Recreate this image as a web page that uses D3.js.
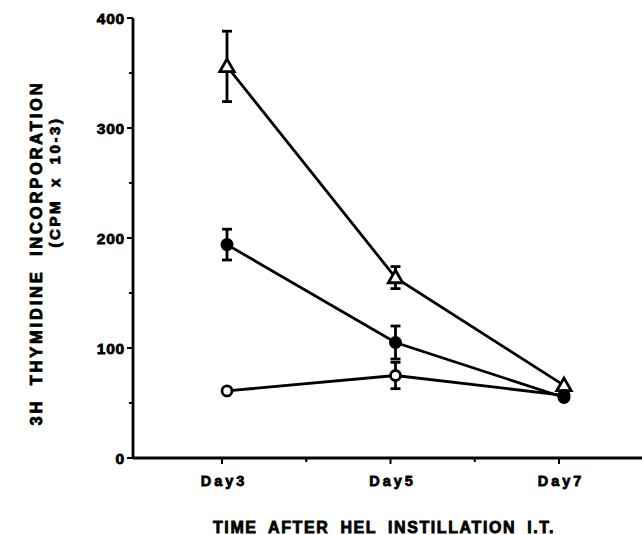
<!DOCTYPE html>
<html>
<head>
<meta charset="utf-8">
<script src="https://cdn.jsdelivr.net/npm/d3@7"></script>
<style>
  body { margin: 0; background: #fff; }
  svg text { font-family: "Liberation Sans", Arial, sans-serif; font-weight: bold; fill: #000;
             stroke: #000; stroke-width: 0.8px; }
</style>
</head>
<body>
<svg id="chart" width="642" height="535"></svg>
<script>
var days = ["Day3", "Day5", "Day7"];
var yTicks = [0, 100, 200, 300, 400];

// mean and error (+/-) per day
var triMean = [356, 164, 66];
var triErr  = [32, 10, 0];
var fillMean = [194, 105, 55];
var fillErr  = [14, 15, 0];
var openMean = [61, 75, 57];
var openErr  = [0, 12, 0];

var svg = d3.select("#chart");
var x = d3.scalePoint().domain(days).range([222, 559]);
var y = d3.scaleLinear().domain([0, 400]).range([458, 18]);
var dx = 5; // points sit a little right of the ticks in the original
var lw = 2.8;

// y axis
var gy = svg.append("g");
gy.append("line").attr("x1", 133).attr("x2", 133)
  .attr("y1", y(400)).attr("y2", y(0))
  .attr("stroke", "#000").attr("stroke-width", lw);
gy.selectAll("line.maj").data(yTicks).enter().append("line")
  .attr("class", "maj")
  .attr("x1", 127).attr("x2", 133)
  .attr("y1", function(d){ return y(d); }).attr("y2", function(d){ return y(d); })
  .attr("stroke", "#000").attr("stroke-width", 2);
gy.selectAll("line.min").data([50, 150, 250, 350]).enter().append("line")
  .attr("class", "min")
  .attr("x1", 129).attr("x2", 133)
  .attr("y1", function(d){ return y(d); }).attr("y2", function(d){ return y(d); })
  .attr("stroke", "#000").attr("stroke-width", 2);
gy.selectAll("text").data(yTicks).enter().append("text")
  .attr("x", 125).attr("y", function(d){ return y(d) + 5.5; })
  .attr("text-anchor", "end").attr("font-size", 15.5)
  .attr("letter-spacing", 0.8)
  .text(function(d){ return d; });

// x axis
var gx = svg.append("g");
gx.append("line").attr("x1", 133).attr("x2", 642)
  .attr("y1", 458).attr("y2", 458)
  .attr("stroke", "#000").attr("stroke-width", lw);
gx.selectAll("line.maj").data(days).enter().append("line")
  .attr("class", "maj")
  .attr("x1", function(d){ return x(d); }).attr("x2", function(d){ return x(d); })
  .attr("y1", 458).attr("y2", 464)
  .attr("stroke", "#000").attr("stroke-width", 2);
gx.selectAll("line.min").data([0, 1]).enter().append("line")
  .attr("class", "min")
  .attr("x1", function(i){ return (x(days[i]) + x(days[i + 1])) / 2; })
  .attr("x2", function(i){ return (x(days[i]) + x(days[i + 1])) / 2; })
  .attr("y1", 458).attr("y2", 462)
  .attr("stroke", "#000").attr("stroke-width", 2);
gx.selectAll("text").data(days).enter().append("text")
  .attr("x", function(d){ return x(d) + 2; }).attr("y", 486)
  .attr("text-anchor", "middle").attr("font-size", 14.5)
  .attr("letter-spacing", 3)
  .text(function(d){ return d; });

svg.append("text").attr("x", 384).attr("y", 533)
  .attr("text-anchor", "middle").attr("font-size", 16)
  .attr("letter-spacing", 1.6).attr("word-spacing", 5)
  .text("TIME AFTER HEL INSTILLATION I.T.");

svg.append("text")
  .attr("transform", "translate(42,253) rotate(-90)")
  .attr("text-anchor", "middle").attr("font-size", 16.5)
  .attr("letter-spacing", 2.8).attr("word-spacing", 6)
  .text("3H THYMIDINE INCORPORATION");
svg.append("text")
  .attr("transform", "translate(60,182) rotate(-90)")
  .attr("text-anchor", "middle").attr("font-size", 15)
  .attr("letter-spacing", 2.6).attr("word-spacing", 5)
  .text("(CPM x 10-3)");

var line = d3.line()
  .x(function(d, i){ return x(days[i]) + dx; })
  .y(function(d){ return y(d); });

function errorBars(mean, err){
  var g = svg.append("g").attr("stroke", "#000").attr("stroke-width", lw);
  days.forEach(function(d, i){
    if (!err[i]) return;
    var cx = x(d) + dx;
    g.append("line").attr("x1", cx).attr("x2", cx)
      .attr("y1", y(mean[i] + err[i])).attr("y2", y(mean[i] - err[i]));
    [mean[i] + err[i], mean[i] - err[i]].forEach(function(v){
      g.append("line").attr("x1", cx - 5).attr("x2", cx + 5)
        .attr("y1", y(v)).attr("y2", y(v));
    });
  });
}

[triMean, fillMean, openMean].forEach(function(s){
  svg.append("path").datum(s).attr("d", line)
    .attr("fill", "none").attr("stroke", "#000").attr("stroke-width", lw);
});
errorBars(triMean, triErr);
errorBars(fillMean, fillErr);
errorBars(openMean, openErr);

var tri = d3.symbol().type(d3.symbolTriangle).size(90);
svg.selectAll("path.tri").data(triMean).enter().append("path")
  .attr("class", "tri")
  .attr("transform", function(d, i){ return "translate(" + (x(days[i]) + dx) + "," + (y(d) + 1) + ")"; })
  .attr("d", tri)
  .attr("fill", "#fff").attr("stroke", "#000").attr("stroke-width", lw);
svg.selectAll("circle.open").data(openMean).enter().append("circle")
  .attr("class", "open")
  .attr("cx", function(d, i){ return x(days[i]) + dx; })
  .attr("cy", function(d){ return y(d); })
  .attr("r", 5).attr("fill", "#fff").attr("stroke", "#000").attr("stroke-width", lw);
svg.selectAll("circle.fill").data(fillMean).enter().append("circle")
  .attr("class", "fill")
  .attr("cx", function(d, i){ return x(days[i]) + dx; })
  .attr("cy", function(d){ return y(d); })
  .attr("r", 6.5).attr("fill", "#000");
</script>
</body>
</html>
